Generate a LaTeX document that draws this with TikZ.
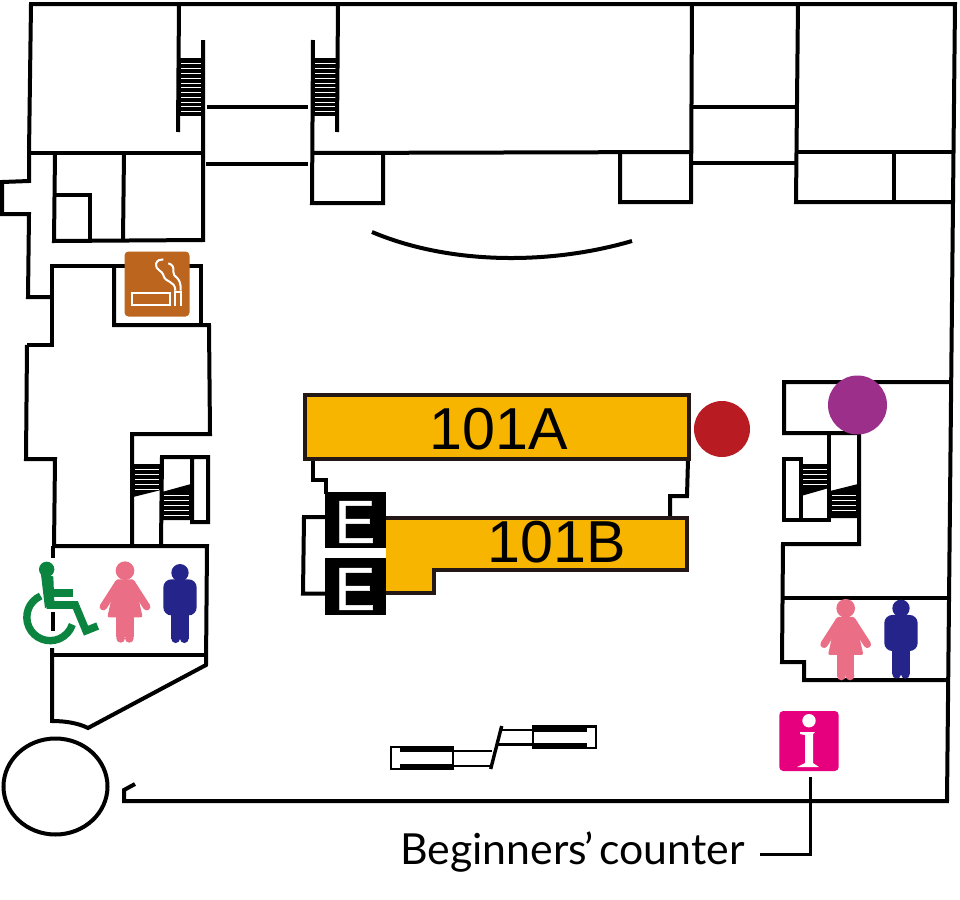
\documentclass[tikz,border=0pt]{standalone}
\usepackage{fontspec}
\setmainfont{Liberation Sans}
\newfontfamily\labelfont{Lato}
\newfontfamily\efont[FakeBold=0.8]{Liberation Sans}
\definecolor{roomorange}{HTML}{F7B500}
\definecolor{outl}{HTML}{231815}
\definecolor{redspot}{HTML}{B81C22}
\definecolor{purplespot}{HTML}{9B2F8A}
\definecolor{smokeb}{HTML}{BC651F}
\definecolor{infopink}{HTML}{E6007E}
\definecolor{womanc}{HTML}{EA6E85}
\definecolor{manc}{HTML}{24248A}
\definecolor{chairc}{HTML}{0B8440}
\tikzset{
  wall/.style={draw=black,line width=2pt,line join=miter},
  thinwall/.style={draw=black,line width=1.7pt},
  finewall/.style={draw=black,line width=1.45pt},
  stairblock/.style={fill=black,draw=none},
  tread/.style={draw=white,line width=0.45pt},
  room/.style={fill=roomorange,draw=outl,line width=1.8pt},
  liftbox/.style={fill=black,draw=none},
  roomlabel/.style={anchor=base,inner sep=0pt,text=black},
  liftlabel/.style={anchor=center,inner sep=0pt,text=white,font=\efont\fontsize{30.5}{31}\selectfont},
  iconline/.style={draw=white,line width=1pt},
  leader/.style={draw=black,line width=1.3pt}
}
\newcommand{\womanfig}[2]{%
\begin{scope}[shift={(#1,#2)},x=0.16667pt,y=-0.16667pt]
  \fill[womanc] (0,0) circle[radius=28];
  \fill[womanc,rounded corners=1pt] (-28,26)--(28,26)--(53,140)--(-53,140)--cycle;
  \draw[womanc,line width=3.7pt,line cap=round] (-20,38)--(-65,108);
  \draw[womanc,line width=3.7pt,line cap=round] (20,38)--(65,108);
  \fill[womanc] (-26,135) rectangle (26,200);
  \fill[womanc] (-13,203) circle[radius=13] (13,203) circle[radius=13];
\end{scope}}
\newcommand{\manfig}[2]{%
\begin{scope}[shift={(#1,#2)},x=0.16667pt,y=-0.16667pt]
  \fill[manc] (0,0) circle[radius=26];
  \fill[manc,rounded corners=4pt] (-50,20) rectangle (50,128);
  \fill[manc] (-26,100) rectangle (26,198);
  \fill[manc] (-13,198) circle[radius=13] (13,198) circle[radius=13];
\end{scope}}
\begin{document}
\begin{tikzpicture}[x=0.5pt,y=-0.5pt]
\useasboundingbox (0,0) rectangle (960,900);
\fill[white] (0,0) rectangle (960,900);

% stairs top
\fill[stairblock] (179,58) rectangle (203,116);
\fill[stairblock] (313,58) rectangle (338,116);
\foreach \y in {63,68,73,78,83,87,92,97,102,106,111}{
  \draw[tread] (181,\y)--(201,\y);
  \draw[tread] (315,\y)--(336,\y);
}
% side stairs (left)
\fill[stairblock] (133,464)--(161,464)--(161,490)--(133,497)--cycle;
\fill[stairblock] (162,492)--(191,484)--(191,520)--(162,520)--cycle;
\foreach \y in {469,474,479,484,489}{\draw[tread] (135,\y)--(159,\y);}
\foreach \y in {495,500,505,510,515}{\draw[tread] (164,\y)--(189,\y);}
% side stairs (right)
\fill[stairblock] (801,464)--(829,464)--(829,488)--(801,496)--cycle;
\fill[stairblock] (830,491)--(858,484)--(858,518)--(830,518)--cycle;
\foreach \y in {469,474,479,484}{\draw[tread] (803,\y)--(827,\y);}
\foreach \y in {495,500,505,510}{\draw[tread] (832,\y)--(856,\y);}

% outer wall
\draw[wall] (135,784)--(124,790)--(124,801)--(947,801)--(953,202)--(955,4)--(31,4)--(29,153)--(29,181)--(2,182)--(2,214)--(29,214)--(28,297)--(52,297);
% top-left block
\draw[wall] (179,4)--(178,132);
\draw[wall] (203,40)--(203,240)--(54,241)--(55,153);
\draw[wall] (29,153)--(203,153);
\draw[wall] (124,153)--(123,240);
\draw[wall] (55,195)--(90,195)--(90,240);
\draw[wall] (338,4)--(337,132);
\draw[wall] (313,40)--(312,203)--(383,203)--(383,153);
\draw[wall] (313,153)--(692,152);
\draw[wall] (797,152)--(953,152);
\draw[thinwall] (207,107)--(308,107);
\draw[wall] (206,164)--(308,164);
\draw[wall] (692,4)--(691,202)--(620,202)--(620,153);
\draw[wall] (798,4)--(796,202)--(953,202);
\draw[thinwall] (693,107)--(797,107);
\draw[wall] (692,163)--(797,163);
\draw[wall] (894,152)--(894,202);
% arc
\draw[wall] (372,232) .. controls (450,265) and (550,265) .. (632,241);
% smoking area and left block
\draw[wall] (27,345)--(52,345)--(52,266)--(203,266);
\draw[wall] (201,266)--(201,324);
\draw[wall] (114,266)--(114,325)--(209,325)--(210,434)--(132,434)--(132,545);
\draw[wall] (27,345)--(26,459)--(55,459)--(54,547);
\draw[wall] (161,545)--(162,457)--(208,457)--(208,522)--(192,522)--(192,457);
\draw[wall] (54,546)--(207,546)--(206,665)--(88,728) .. controls (78,723) and (65,721) .. (52,721)--(52,648);
\draw[wall] (53,612)--(53,631);
\draw[wall] (52,655)--(206,655);
\draw[wall] (53,546)--(53,558);
% circle
\draw[wall] (55.5,786.5) ellipse[x radius=52,y radius=48];
% right block
\draw[wall] (950,382)--(784,382)--(784,433)--(859,433)--(859,544)--(783,544)--(782,662)--(804,662)--(804,680)--(947,680);
\draw[wall] (829,433)--(829,520)--(784,520)--(784,459)--(801,459)--(801,520);
\draw[wall] (783,598)--(949,598);
% links
\draw[wall] (313,460)--(313,480)--(326,480)--(326,494);
\draw[wall] (688,460)--(687,496)--(670,496)--(670,517);
\draw[wall] (325,517)--(304,517)--(303,593.5)--(325,593.5);

% rooms
\draw[room] (305,395) rectangle (689,459);
\fill[roomorange] (386,518)--(688,518)--(688,570)--(434,570)--(434,593)--(386,593)--cycle;
\draw[outl,line width=1.8pt] (386,518)--(687,518)--(687,570)--(434,570)--(434,593)--(386,593);
\node[roomlabel,font=\fontsize{29.6}{30}\selectfont] (ra) at (499,449) {101A};
\node[roomlabel,font=\fontsize{29.6}{30}\selectfont] (rb) at (556.5,562) {101B};

% lifts
\fill[liftbox] (325,492) rectangle (386,548);
\fill[liftbox] (325,558) rectangle (386,615);
\node[liftlabel] (e1) at (355,522) {E};
\node[liftlabel] (e2) at (355,589) {E};

% spots
\fill[redspot] (722,429) circle[radius=28];
\fill[purplespot] (857.5,405) circle[radius=29.5];

% escalator thing
\draw[finewall] (391,747) rectangle (453,769);
\fill[black] (400,746) rectangle (453,752);
\fill[black] (400,764) rectangle (453,770);
\draw[finewall] (453,751)--(492,751);
\draw[finewall] (453,766)--(491,766);
\draw[thinwall] (501.7,726)--(490.7,769);
\draw[finewall] (500,730)--(533,730);
\draw[finewall] (498,744.3)--(533,744.3);
\draw[finewall] (533,726.5) rectangle (596,748);
\fill[black] (533,726) rectangle (587,732);
\fill[black] (533,743) rectangle (587,749);

% smoking sign
\fill[smokeb,rounded corners=2pt] (124.5,251.5) rectangle (189.5,316.5);
\begin{scope}[x=0.16667pt,y=-0.16667pt]
  \draw[iconline] (395,878) rectangle (510,915);
  \draw[iconline] (526,872)--(526,917);
  \draw[iconline] (542,872)--(542,917);
  \draw[iconline] (522,875)--(546,875);
  \draw[iconline] (526,872) .. controls (526,840) and (495,850) .. (490,825) .. controls (488,812) and (465,810) .. (468,792) .. controls (470,780) and (482,778) .. (490,778);
  \draw[iconline] (542,872) .. controls (544,825) and (518,835) .. (520,815) .. controls (522,803) and (518,793) .. (505,790);
\end{scope}

% info sign and leader
\node[fill=infopink,rounded corners=2pt,minimum width=29.7pt,minimum height=30pt,inner sep=0pt] (info) at (809,741) {};
\fill[white] (809,720.7) circle[radius=6.7];
\fill[white] (800,732)--(815,732)--(813,734)--(813,763)--(819,767)--(797,767)--(805,763)--(805,735)--(800,734)--cycle;
\coordinate (lineTop) at (810.5,777);
\coordinate (lineCorner) at (810.5,854.5);
\coordinate (lineEnd) at (759.5,854.5);
\draw[leader] (lineTop)--(lineCorner)--(lineEnd);
\node[anchor=base west,inner sep=0pt,font=\labelfont\fontsize{21.4}{24}\selectfont] (counter) at (400,864) {Beginners\kern-1.5pt’ \hspace{-2.5pt}counter};

% pictograms
\womanfig{125}{570.7}
\manfig{180}{572.7}
\womanfig{845.7}{608.3}
\manfig{901}{608.3}
% wheelchair
\begin{scope}[shift={(0,420)},x=0.16667pt,y=-0.16667pt]
  \fill[chairc] (140,448) circle[radius=23];
  \fill[chairc] (122,455)--(160,470)--(163,545)--(135,565)--cycle;
  \draw[chairc,line width=4pt] (150,520)--(219,520);
  \draw[chairc,line width=3.8pt,line join=miter] (140,555)--(226,555)--(258,632)--(293,618);
  \draw[chairc,line width=3.7pt] (122,528) arc[start angle=-114,end angle=-342,radius=70];
\end{scope}
\end{tikzpicture}
\end{document}
